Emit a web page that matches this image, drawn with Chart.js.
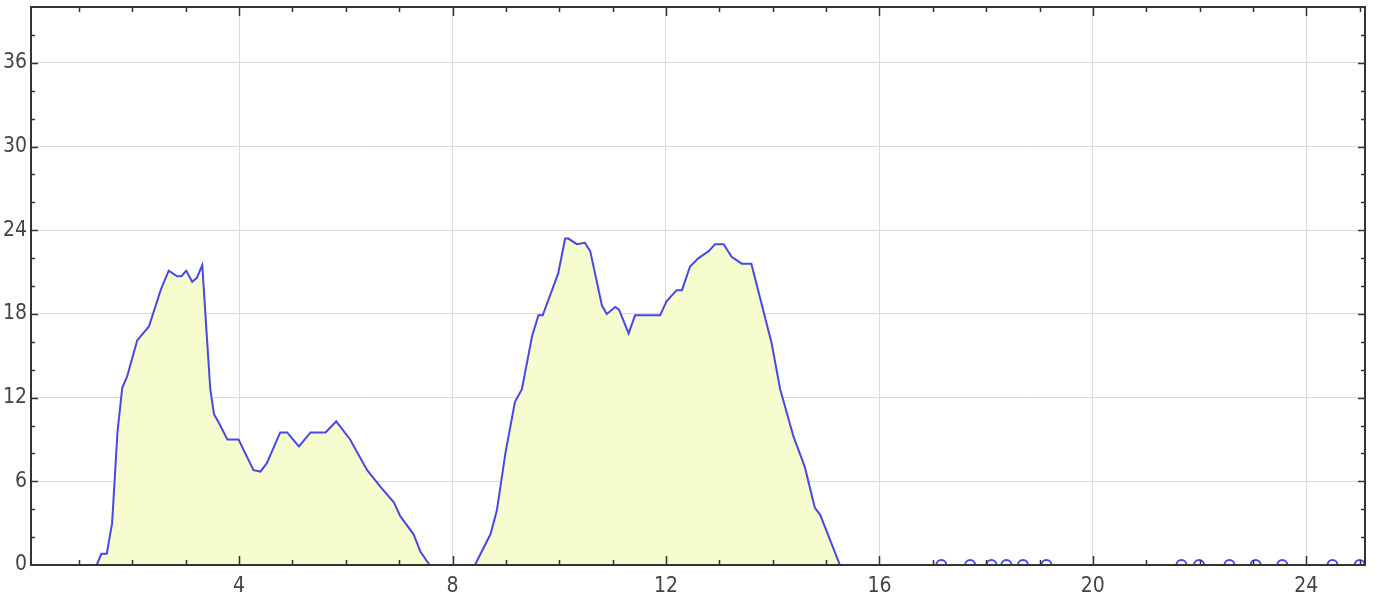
<!DOCTYPE html>
<html>
<head>
<meta charset="utf-8">
<script src="https://cdn.jsdelivr.net/npm/chart.js@4.4.1/dist/chart.umd.min.js"></script>
<style>
  html, body { margin: 0; padding: 0; background: #fff; }
  #wrap { width: 1375px; height: 604px; }
</style>
</head>
<body>
<div id="wrap"><canvas id="levelChart"></canvas></div>
<script>
// first hump
const hump1X = [1.33, 1.42, 1.52, 1.62, 1.72, 1.81, 1.90, 2.09, 2.31, 2.53, 2.68, 2.84, 2.92, 3.01, 3.12, 3.21, 3.31,
                3.40, 3.46, 3.53, 3.62, 3.78, 3.99, 4.27, 4.40, 4.52, 4.77, 4.90, 5.12, 5.34, 5.62, 5.82, 6.08,
                6.40, 6.65, 6.90, 7.02, 7.27, 7.40, 7.57];
const hump1Y = [0, 0.8, 0.8, 3.0, 9.5, 12.7, 13.5, 16.1, 17.1, 19.7, 21.1, 20.7, 20.7, 21.1, 20.3, 20.6, 21.5,
                16.1, 12.6, 10.8, 10.2, 9.0, 9.0, 6.8, 6.7, 7.3, 9.5, 9.5, 8.5, 9.5, 9.5, 10.3, 9.0,
                6.8, 5.6, 4.5, 3.5, 2.2, 0.95, 0];
// second hump
const hump2X = [8.42, 8.71, 8.83, 8.99, 9.17, 9.30, 9.49, 9.61, 9.69, 9.98, 10.11, 10.17, 10.33, 10.48, 10.58,
                10.80, 10.89, 11.05, 11.12, 11.30, 11.42, 11.89, 12.01, 12.20, 12.30, 12.45, 12.61, 12.80,
                12.92, 13.08, 13.23, 13.42, 13.60, 13.76, 13.98, 14.14, 14.39, 14.60, 14.79, 14.89, 15.26];
const hump2Y = [0, 2.2, 3.9, 8.0, 11.7, 12.6, 16.4, 17.9, 17.9, 20.9, 23.4, 23.4, 23.0, 23.1, 22.5,
                18.6, 18.0, 18.5, 18.3, 16.6, 17.9, 17.9, 18.9, 19.7, 19.7, 21.4, 22.0, 22.5,
                23.0, 23.0, 22.1, 21.6, 21.6, 19.2, 15.9, 12.6, 9.2, 7.05, 4.1, 3.6, 0];
// small marks sitting on the axis
const markerX = [17.16, 17.70, 18.10, 18.38, 18.69, 19.13, 21.66, 21.99, 22.56, 23.05, 23.55, 24.49, 25.0];

const xTicks = [4, 8, 12, 16, 20, 24];
const yTicks = [0, 6, 12, 18, 24, 30, 36];

const lineColor = '#4848e4';
const fillColor = '#f6fccd';

const linePoints = hump1X.map((v, i) => ({ x: v, y: hump1Y[i] }))
    .concat([{ x: 8.0, y: null }])
    .concat(hump2X.map((v, i) => ({ x: v, y: hump2Y[i] })));
const markerPoints = markerX.map(v => ({ x: v, y: 0 }));

// box + inward tick marks on all four sides
const framePlugin = {
    id: 'frame',
    afterDraw(chart) {
        const { ctx, chartArea: a, scales: { x, y } } = chart;
        ctx.save();
        ctx.strokeStyle = '#333';
        ctx.lineWidth = 1.5;
        ctx.beginPath();
        for (let v = 1; v <= 25; v++) {
            const px = Math.round(x.getPixelForValue(v)) + 0.5;
            const len = v % 4 === 0 ? 9 : 5;
            ctx.moveTo(px, a.bottom); ctx.lineTo(px, a.bottom - len);
            ctx.moveTo(px, a.top); ctx.lineTo(px, a.top + len);
        }
        for (let v = 2; v <= 38; v += 2) {
            const py = Math.round(y.getPixelForValue(v)) + 0.5;
            const len = v % 6 === 0 ? 7 : 4;
            ctx.moveTo(a.left, py); ctx.lineTo(a.left + len, py);
            ctx.moveTo(a.right, py); ctx.lineTo(a.right - len, py);
        }
        ctx.stroke();
        ctx.lineWidth = 2;
        ctx.strokeRect(a.left, a.top, a.right - a.left, a.bottom - a.top);
        ctx.restore();
    }
};

const tickFont = {
    family: "'Liberation Sans Narrow', 'DejaVu Sans Condensed', 'Roboto Condensed', sans-serif",
    size: 21
};

new Chart(document.getElementById('levelChart'), {
    type: 'line',
    data: {
        datasets: [
            {
                data: linePoints,
                borderColor: lineColor,
                borderWidth: 2,
                backgroundColor: fillColor,
                fill: 'origin',
                pointRadius: 0,
                tension: 0,
                spanGaps: false,
                clip: 0
            },
            {
                data: markerPoints,
                showLine: false,
                pointStyle: 'circle',
                pointRadius: 5,
                pointBorderWidth: 2,
                pointBorderColor: lineColor,
                pointBackgroundColor: 'rgba(0,0,0,0)',
                clip: 0
            }
        ]
    },
    options: {
        responsive: true,
        maintainAspectRatio: false,
        animation: false,
        devicePixelRatio: 1,
        layout: {
            padding: { top: 7, right: 10, left: 0, bottom: 0 }
        },
        plugins: {
            legend: { display: false },
            tooltip: { enabled: false }
        },
        scales: {
            x: {
                type: 'linear',
                min: 0.1,
                max: 25.1,
                afterBuildTicks: function(scale) {
                    scale.ticks = xTicks.map(v => ({ value: v }));
                },
                afterFit: function(scale) {
                    scale.height = 39;
                    scale.paddingLeft = 0;
                    scale.paddingRight = 0;
                },
                border: { display: false },
                grid: {
                    color: '#dadada',
                    borderDash: [1, 2],
                    drawTicks: false
                },
                ticks: {
                    color: '#444',
                    font: tickFont,
                    padding: 9,
                    maxRotation: 0
                }
            },
            y: {
                type: 'linear',
                min: 0,
                max: 40,
                afterBuildTicks: function(scale) {
                    scale.ticks = yTicks.map(v => ({ value: v }));
                },
                afterFit: function(scale) {
                    scale.width = 31;
                    scale.paddingTop = 0;
                    scale.paddingBottom = 0;
                },
                border: { display: false },
                grid: {
                    color: '#dadada',
                    borderDash: [1, 2],
                    drawTicks: false
                },
                ticks: {
                    color: '#444',
                    font: tickFont,
                    padding: 4
                }
            }
        }
    },
    plugins: [framePlugin]
});
</script>
</body>
</html>
